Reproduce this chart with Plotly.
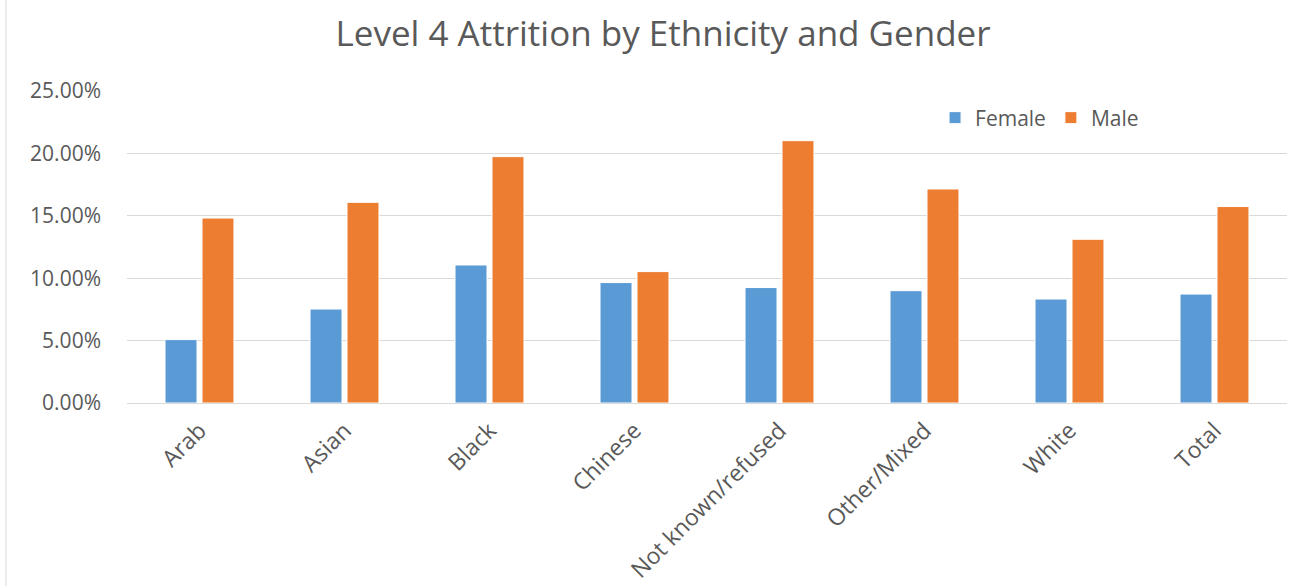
import plotly.graph_objects as go

categories = ["Arab", "Asian", "Black", "Chinese", "Not known/refused", "Other/Mixed", "White", "Total"]
female = [0.0508, 0.0753, 0.1106, 0.0965, 0.0925, 0.0900, 0.0833, 0.0873]
male = [0.1482, 0.1608, 0.1974, 0.1053, 0.2102, 0.1715, 0.1312, 0.1574]

FONT = "Open Sans"
GREY = "#595959"

fig = go.Figure()
fig.add_trace(go.Bar(name="Female", x=categories, y=female,
                     marker=dict(color="#5B9BD5", line=dict(color="#ffffff", width=1))))
fig.add_trace(go.Bar(name="Male", x=categories, y=male,
                     marker=dict(color="#ED7D31", line=dict(color="#ffffff", width=1))))

fig.update_layout(
    width=1290, height=586,
    margin=dict(l=127, r=3, t=91, b=183),
    paper_bgcolor="white", plot_bgcolor="white",
    barmode="group", bargap=0.49, bargroupgap=0.135,
    title=dict(text="Level 4 Attrition by Ethnicity and Gender", x=0.514, xanchor="center",
               y=0.943, yanchor="middle",
               font=dict(family=FONT, size=35, color=GREY)),
    font=dict(family=FONT, size=21, color=GREY),
    legend=dict(orientation="h", x=0.6966, xanchor="left", y=0.9135, yanchor="middle",
                font=dict(family=FONT, size=21, color=GREY), bgcolor="rgba(0,0,0,0)",
                itemwidth=30, traceorder="normal"),
    xaxis=dict(tickangle=-45, showgrid=False, showline=True, linecolor="#d9d9d9", linewidth=1,
               ticks="", ticklabelstandoff=4, tickfont=dict(family=FONT, size=23, color=GREY)),
    yaxis=dict(range=[0, 0.25], dtick=0.05, tickformat=".2%", showgrid=True, gridcolor="#d9d9d9",
               gridwidth=1, zeroline=False, showline=False, ticks="", ticklabelstandoff=25,
               tickfont=dict(family=FONT, size=21, color=GREY)),
)
fig.add_shape(type="line", xref="paper", yref="paper", x0=-0.1043, x1=-0.1043, y0=-0.6, y1=1.3,
              line=dict(color="#d9d9d9", width=1))
fig.write_html("out.html")
